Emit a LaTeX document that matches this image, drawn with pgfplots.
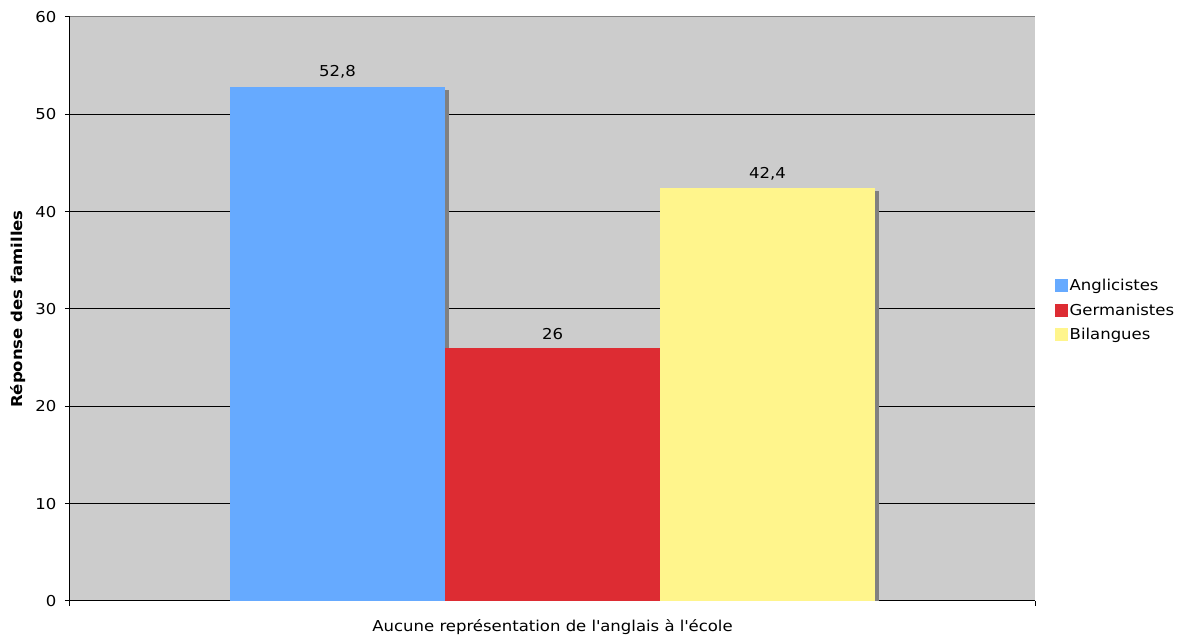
\documentclass[border=0pt]{standalone}
\usepackage{fontspec}
\setmainfont{DejaVu Sans}[FakeStretch=1.10]
\usepackage{pgfplots}
\pgfplotsset{compat=1.18}

\definecolor{plotbg}{HTML}{CCCCCC}
\definecolor{shadowgray}{HTML}{808080}
\definecolor{angl}{HTML}{66AAFF}
\definecolor{germ}{HTML}{DD2C33}
\definecolor{bil}{HTML}{FFF58C}

\newcommand{\chartfont}{\fontsize{15}{17.5}\selectfont}

\begin{document}
\begin{tikzpicture}[x=1pt,y=1pt]
\path[use as bounding box] (-70,-35) rectangle (1121,601);
\begin{axis}[
  at={(0,0)}, anchor=south west,
  scale only axis, width=965pt, height=584pt,
  xmin=-0.5, xmax=0.5, ymin=0, ymax=60,
  ytick={0,10,...,60},
  xtick={-0.5,0.5}, xticklabels={},
  axis x line*=bottom, axis y line*=left,
  axis line style={black, line width=1pt, -},
  tick align=outside, major tick length=5pt,
  tick style={black, line width=1pt},
  ymajorgrids, grid style={black, line width=1pt},
  axis background/.style={fill=plotbg},
  ticklabel style={font=\chartfont},
  /pgf/number format/assume math mode=true,
  /pgf/number format/use comma,
  /pgf/number format/1000 sep={},
  yticklabel style={xshift=-5pt},
  xlabel={Aucune représentation de l\textquotesingle anglais à l\textquotesingle école},
  xlabel style={font=\chartfont, at={(axis description cs:0.5,0)}, anchor=base, yshift=-31pt},
  ylabel={\bfseries Réponse des familles},
  ylabel style={font=\chartfont, at={(axis description cs:-0.0539,0.5)}, anchor=center},
  legend style={draw=none, fill=none, at={(axis description cs:1.0207,0.498)}, anchor=west,
    font=\chartfont, row sep=8.5pt, inner sep=0pt,
    nodes={inner sep=1.5pt, anchor=west}},
  legend cell align=left,
  legend image code/.code={\fill[#1] (0pt,-6.5pt) rectangle (13pt,6.5pt);},
  clip=true,
]
% drop shadows behind the bars
\addplot[ybar, bar width=0.2228, bar shift=4pt, fill=shadowgray, draw=none, forget plot]
  coordinates {(-0.2228,52.49)};
\addplot[ybar, bar width=0.2228, bar shift=4pt, fill=shadowgray, draw=none, forget plot]
  coordinates {(0,25.69)};
\addplot[ybar, bar width=0.2228, bar shift=4pt, fill=shadowgray, draw=none, forget plot]
  coordinates {(0.2228,42.09)};
% the bars
\addplot[ybar, bar width=0.2228, bar shift=0pt, fill=angl, draw=none,
  nodes near coords, every node near coord/.append style={font=\chartfont, black, yshift=5pt}]
  coordinates {(-0.2228,52.8)};
\addlegendentry{Anglicistes}
\addplot[ybar, bar width=0.2228, bar shift=0pt, fill=germ, draw=none,
  nodes near coords, every node near coord/.append style={font=\chartfont, black, yshift=5pt}]
  coordinates {(0,26)};
\addlegendentry{Germanistes}
\addplot[ybar, bar width=0.2228, bar shift=0pt, fill=bil, draw=none,
  nodes near coords, every node near coord/.append style={font=\chartfont, black, yshift=5pt}]
  coordinates {(0.2228,42.4)};
\addlegendentry{Bilangues}
% upper frame line
\draw[shadowgray, line width=1pt] (rel axis cs:0,1) -- (rel axis cs:1,1);
\end{axis}
\end{tikzpicture}
\end{document}
